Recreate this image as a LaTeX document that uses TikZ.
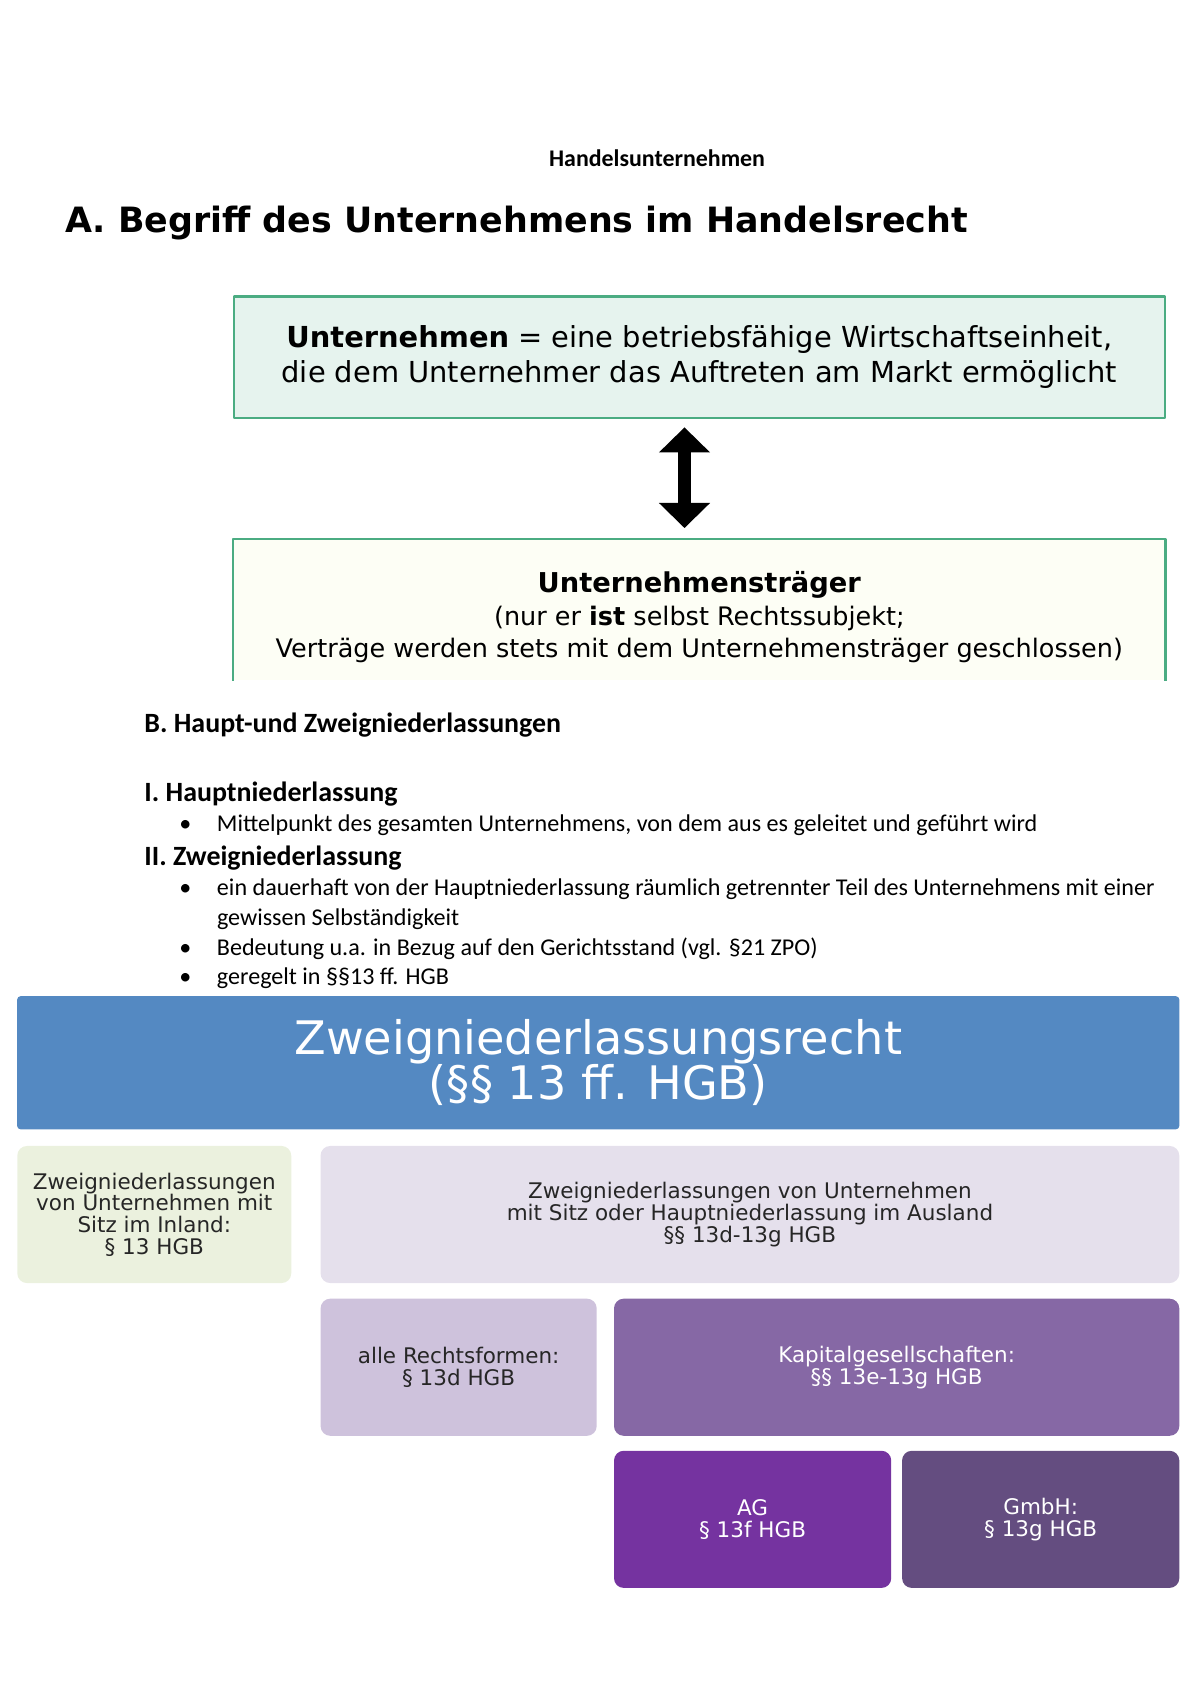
\documentclass[tikz,border=0pt]{standalone}
\usepackage{fontspec}
\setmainfont{Carlito}
\newfontfamily\verd{DejaVu Sans}
\usepackage{tikz}
\usetikzlibrary{arrows.meta, positioning, shapes, calc}
\definecolor{boxgreen}{RGB}{75, 172, 130}
\definecolor{untfill}{RGB}{230, 243, 238}
\definecolor{trfill}{RGB}{253, 254, 245}
\definecolor{smartblue}{RGB}{84, 137, 194}
\definecolor{inlandgreen}{RGB}{235, 241, 222}
\definecolor{auslandlila}{RGB}{229, 224, 236}
\definecolor{rformlila}{RGB}{206, 194, 220}
\definecolor{kapitallila}{RGB}{134, 104, 165}
\definecolor{aglila}{RGB}{117, 51, 160}
\definecolor{gmbhlila}{RGB}{100, 77, 128}
\definecolor{darktext}{RGB}{38, 38, 38}
\tikzset{every node/.style={font=\small}, every path/.style={line cap=round, line join=round}, >={Latex[length=2mm, width=1.5mm]}}
\newcommand{\blt}{\llap{\textbullet\hspace{4.5mm}}}

\begin{document}
\begin{tikzpicture}[
    txt/.style={
        inner sep=0pt,
        anchor=west,
        font=\fontsize{12}{14.8}\selectfont
    },
    head/.style={
        txt,
        font=\fontsize{13.9}{16}\selectfont\bfseries
    },
    defbox/.style={
        draw=boxgreen,
        line width=1.1pt,
        fill=untfill,
        minimum width=16.3cm,
        minimum height=2.12cm,
        inner sep=0pt,
        align=center,
        font=\verd\fontsize{14.4}{17.7}\selectfont
    },
    smart/.style={
        rounded corners=1.7mm,
        inner sep=0pt,
        minimum height=2.4cm,
        align=center,
        text=darktext,
        font=\verd\fontsize{10.7}{10.8}\selectfont
    },
    dblarrow/.style={
        line width=2.3mm,
        {Triangle[width=8.7mm,length=4.4mm]}-{Triangle[width=8.7mm,length=4.4mm]}
    }
]
\useasboundingbox (0,0) rectangle (21,-29.718);

% A. Begriff
\node[inner sep=0pt, font=\bfseries\fontsize{11.9}{14}\selectfont] (doctitle) at (11.50,-2.77) {Handelsunternehmen};
\node[inner sep=0pt, anchor=west, font=\verd\bfseries\fontsize{17.35}{20}\selectfont] (secA) at (1.137,-3.907) {A. Begriff des Unternehmens im Handelsrecht};

\node[defbox] (unt) at (12.24,-6.25)
{\textbf{Unternehmen} = eine betriebsfähige Wirtschaftseinheit,\\die dem Unternehmer das Auftreten am Markt ermöglicht};

\node[fill=trfill, minimum width=16.3cm, minimum height=2.464cm, inner sep=0pt] (tr) at (12.24,-10.671) {};
\draw[draw=boxgreen, line width=1.1pt, line cap=butt] (tr.south west) -- (tr.north west) -- (tr.north east) -- (tr.south east);
\node[inner sep=0pt, align=center, font=\verd\fontsize{12.7}{16.1}\selectfont] (trtext) at ([yshift=-1.33mm]tr.center)
{{\bfseries\fontsize{13.6}{16.1}\selectfont Unternehmensträger}\\(nur er \textbf{ist} selbst Rechtssubjekt;\\Verträge werden stets mit dem Unternehmensträger geschlossen)};

\draw[dblarrow] ([xshift=-2.6mm,yshift=-1.5mm]unt.south) -- ([xshift=-2.6mm,yshift=1.9mm]tr.north);

% B. Haupt- und Zweigniederlassungen
\node[head] (secB) at (2.521,-12.682) {B. Haupt-und Zweigniederlassungen};
\node[head] (hn) at (2.521,-13.895) {I. Hauptniederlassung};
\node[txt] (hn1) at (3.791,-14.444) {\blt Mittelpunkt des gesamten Unternehmens, von dem aus es geleitet und geführt wird};
\node[head] (zn) at (2.521,-15.013) {II. Zweigniederlassung};
\node[txt] (zn1) at (3.791,-15.563) {\blt ein dauerhaft von der Hauptniederlassung räumlich getrennter Teil des Unternehmens mit einer};
\node[txt] (zn1b) at (3.791,-16.093) {gewissen Selbständigkeit};
\node[txt] (zn2) at (3.791,-16.605) {\blt Bedeutung u.a. in Bezug auf den Gerichtsstand (vgl. §21 ZPO)};
\node[txt] (zn3) at (3.791,-17.117) {\blt geregelt in §§13 ff. HGB};

% Zweigniederlassungsrecht
\node[smart, rounded corners=0.6mm, fill=smartblue, text=white, minimum width=20.34cm, minimum height=2.33cm,
      font=\verd\fontsize{23}{22.6}\selectfont] (zrecht) at (10.47,-18.60)
{Zweigniederlassungsrecht\\(§§ 13 ff. HGB)};

\node[smart, fill=inlandgreen, minimum width=4.795cm] (inland) at (2.70,-21.256)
{Zweigniederlassungen\\von Unternehmen mit\\Sitz im Inland:\\§ 13 HGB};
\node[smart, fill=auslandlila, minimum width=15.03cm] (ausland) at (13.125,-21.256)
{Zweigniederlassungen von Unternehmen\\mit Sitz oder Hauptniederlassung im Ausland\\§§ 13d-13g HGB};

\node[smart, fill=rformlila, minimum width=4.833cm] (rform) at (8.027,-23.929)
{alle Rechtsformen:\\§ 13d HGB};
\node[smart, fill=kapitallila, text=white, minimum width=9.894cm] (kapital) at (15.693,-23.929)
{Kapitalgesellschaften:\\§§ 13e-13g HGB};

\node[smart, fill=aglila, text=white, minimum width=4.852cm] (ag) at (13.172,-26.591)
{AG\\§ 13f HGB};
\node[smart, fill=gmbhlila, text=white, minimum width=4.852cm] (gmbh) at (18.214,-26.591)
{GmbH:\\§ 13g HGB};

\end{tikzpicture}
\end{document}
